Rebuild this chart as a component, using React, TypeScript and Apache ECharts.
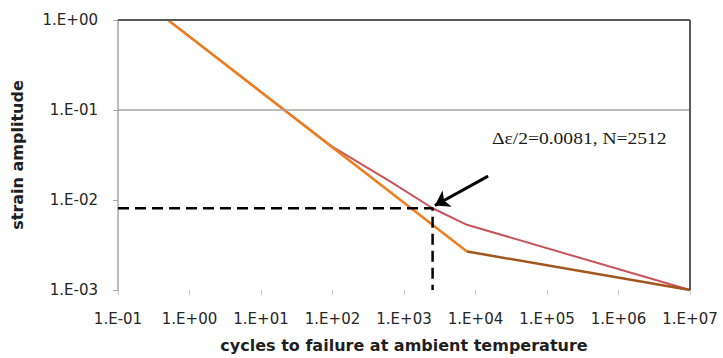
import React, { useEffect, useRef } from "react";
import * as echarts from "echarts";

const xRange = [0.1, 1e7];
const yRange = [0.001, 1];
const totalStrain: [number, number][] = [
  [0.5, 1], [20, 0.104], [95, 0.04], [630, 0.0162], [2512, 0.0081], [7600, 0.0053], [1e7, 0.001],
];
const plasticStrain: [number, number][] = [[0.5, 1], [7600, 0.00268]];
const elasticStrain: [number, number][] = [[7600, 0.00268], [1e7, 0.001]];
const guide: [number, number][] = [[0.1, 0.0081], [2512, 0.0081], [2512, 0.001]];
const arrowFrom: [number, number] = [15000, 0.0184];
const arrowTo: [number, number] = [2700, 0.0087];
const annotation = "Δε/2=0.0081, N=2512";
const xName = "cycles to failure at ambient temperature";
const yName = "strain amplitude";

const fmt = (v: number) => {
  const e = Math.round(Math.log10(v));
  const s = e < 0 ? "-" : "+";
  const a = Math.abs(e);
  return "1.E" + s + (a < 10 ? "0" + a : String(a));
};

export default function App() {
  const ref = useRef<HTMLDivElement>(null);
  useEffect(() => {
    const chart = echarts.init(ref.current!, undefined, { renderer: "svg" });
    const font = "DejaVu Sans";
    chart.setOption({
      animation: false,
      backgroundColor: "#ffffff",
      grid: { left: 118, right: 33, top: 20, bottom: 65 },
      xAxis: {
        type: "log",
        logBase: 10,
        min: xRange[0],
        max: xRange[1],
        name: xName,
        nameLocation: "middle",
        nameGap: 47,
        nameTextStyle: { fontFamily: font, fontWeight: "bold", fontSize: 16, color: "#1f1f1f" },
        axisLine: { show: false },
        axisTick: { show: true, length: 5, lineStyle: { color: "#c8c8c8" } },
        splitLine: { show: false },
        minorTick: { show: false },
        axisLabel: { formatter: fmt, fontFamily: font, fontSize: 15, color: "#262626", margin: 21 },
      },
      yAxis: {
        type: "log",
        logBase: 10,
        min: yRange[0],
        max: yRange[1],
        name: yName,
        nameLocation: "middle",
        nameGap: 93,
        nameTextStyle: { fontFamily: font, fontWeight: "bold", fontSize: 16, color: "#1f1f1f" },
        axisLine: { show: true, lineStyle: { color: "#a6a6a6", width: 1.5 } },
        axisTick: { show: true, length: 5, lineStyle: { color: "#a6a6a6" } },
        splitLine: { show: false },
        axisLabel: { formatter: fmt, fontFamily: font, fontSize: 15, color: "#262626", margin: 20 },
      },
      graphic: [
        {
          type: "text",
          x: 492,
          y: 138,
          scaleX: 1.15,
          style: {
            text: annotation,
            font: "17px 'Liberation Serif'",
            fill: "#1a1a1a",
            align: "left",
            verticalAlign: "middle",
          },
        },
      ],
      series: [
        {
          type: "line",
          data: [],
          z: 1,
          silent: true,
          markLine: {
            silent: true,
            symbol: "none",
            label: { show: false },
            data: [
              { yAxis: 1, lineStyle: { color: "#595959", width: 2, type: "solid" } },
              { yAxis: 0.1, lineStyle: { color: "#a6a6a6", width: 1.5, type: "solid" } },
              { xAxis: 1e7, lineStyle: { color: "#595959", width: 2, type: "solid" } },
            ],
          },
        },
        {
          type: "line",
          data: totalStrain,
          z: 3,
          showSymbol: false,
          lineStyle: { color: "#c8545a", width: 2 },
        },
        {
          type: "line",
          data: plasticStrain,
          z: 4,
          showSymbol: false,
          lineStyle: { color: "#ee7d1f", width: 2.5 },
        },
        {
          type: "line",
          data: elasticStrain,
          z: 4,
          showSymbol: false,
          lineStyle: { color: "#a0561c", width: 2.5 },
        },
        {
          type: "line",
          data: guide,
          z: 5,
          showSymbol: false,
          lineStyle: { color: "#000000", width: 2.5, type: [11, 6] },
          markLine: {
            silent: true,
            symbolSize: 14,
            label: { show: false },
            lineStyle: { color: "#000000", width: 3, type: "solid" },
            data: [[{ coord: arrowFrom, symbol: "none" }, { coord: arrowTo, symbol: "arrow" }]],
          },
        },
      ],
    });
    return () => chart.dispose();
  }, []);
  return (
    <div
      ref={ref}
      style={{ position: "fixed", left: 0, top: 0, width: 723, height: 358, background: "#fff" }}
    />
  );
}
